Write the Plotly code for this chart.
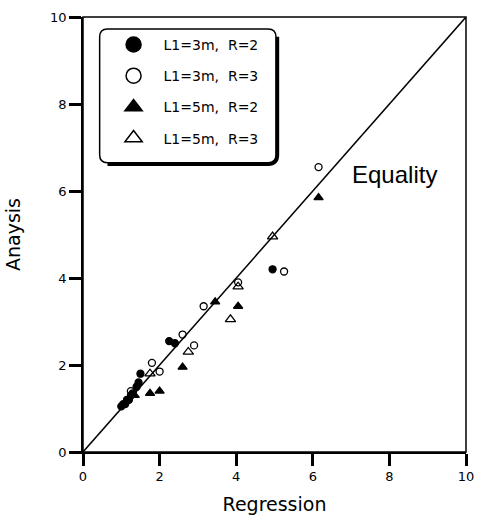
import plotly.graph_objects as go

# Series: Regression estimate (x) vs analysis result (y)
l3_r2_x = [1.0, 1.05, 1.1, 1.15, 1.2, 1.25, 1.3, 1.4, 1.45, 1.5, 2.25, 2.4, 4.95]
l3_r2_y = [1.05, 1.1, 1.1, 1.2, 1.2, 1.3, 1.35, 1.5, 1.6, 1.8, 2.55, 2.5, 4.2]

l3_r3_x = [1.25, 1.8, 2.0, 2.6, 2.9, 3.15, 4.05, 5.25, 6.15]
l3_r3_y = [1.4, 2.05, 1.85, 2.7, 2.45, 3.35, 3.9, 4.15, 6.55]

l5_r2_x = [1.35, 1.75, 2.0, 2.6, 3.45, 4.05, 6.15]
l5_r2_y = [1.3, 1.35, 1.4, 1.95, 3.45, 3.35, 5.85]

l5_r3_x = [1.75, 2.75, 3.85, 4.05, 4.95]
l5_r3_y = [1.8, 2.3, 3.05, 3.8, 4.95]

equality_x = [0, 10]
equality_y = [0, 10]

tick_values = [0, 2, 4, 6, 8, 10]
axis_range = [0, 10]

series_names = ["L1=3m,  R=2", "L1=3m,  R=3", "L1=5m,  R=2", "L1=5m,  R=3"]
symbols = ["circle", "circle-open", "triangle-up", "triangle-up-open"]
xs = [l3_r2_x, l3_r3_x, l5_r2_x, l5_r3_x]
ys = [l3_r2_y, l3_r3_y, l5_r2_y, l5_r3_y]
plot_sizes = [7, 7, 8, 9]

fig = go.Figure()

fig.add_trace(go.Scatter(x=equality_x, y=equality_y, mode="lines",
                         line=dict(color="black", width=1.5),
                         showlegend=False, hoverinfo="skip"))

for name, sym, x, y, s in zip(series_names, symbols, xs, ys, plot_sizes):
    fig.add_trace(go.Scatter(
        x=x, y=y, mode="markers", name=name, showlegend=False,
        marker=dict(symbol=sym, size=s, color="black",
                    line=dict(color="black", width=1.3)),
    ))
    # larger symbols for the key
    fig.add_trace(go.Scatter(
        x=[None], y=[None], mode="markers", name=name, legendgroup=name,
        marker=dict(symbol=sym, size=15, color="black",
                    line=dict(color="black", width=1.5)),
    ))

# plot area in pixels: x 83..474, y 13..452
W, H = 484, 522
L, R, T, B = 83, 10, 13, 70
pw, ph = W - L - R, H - T - B
TICK_LEN = 12


def px(x):
    return (x - L) / pw


def py(y):
    return (H - B - y) / ph


# frame around the plotting area
fig.add_shape(type="rect", x0=0, x1=1, y0=0, y1=1, xref="paper", yref="paper",
              line=dict(color="black", width=1.5))

# rounded key frame with a heavier lower-right edge
bx0, bx1, by0, by1, r = 100, 280, 25, 160, 8
frame = (f"M {px(bx0 + r)},{py(by0)} L {px(bx1 - r)},{py(by0)} "
         f"Q {px(bx1)},{py(by0)} {px(bx1)},{py(by0 + r)} "
         f"L {px(bx1)},{py(by1 - r)} Q {px(bx1)},{py(by1)} {px(bx1 - r)},{py(by1)} "
         f"L {px(bx0 + r)},{py(by1)} Q {px(bx0)},{py(by1)} {px(bx0)},{py(by1 - r)} "
         f"L {px(bx0)},{py(by0 + r)} Q {px(bx0)},{py(by0)} {px(bx0 + r)},{py(by0)} Z")
shadow = (f"M {px(bx1 + 1.5)},{py(by0 + r)} L {px(bx1 + 1.5)},{py(by1 - r)} "
          f"Q {px(bx1 + 1.5)},{py(by1 + 1.5)} {px(bx1 - r)},{py(by1 + 1.5)} "
          f"L {px(bx0 + r)},{py(by1 + 1.5)}")

fig.add_shape(type="path", path=frame, xref="paper", yref="paper",
              line=dict(color="black", width=1.5))
fig.add_shape(type="path", path=shadow, xref="paper", yref="paper",
              line=dict(color="black", width=3.5))

fig.add_annotation(x=8.13, y=6.38, text="Equality", showarrow=False,
                   font=dict(family="Liberation Sans, Arial", size=24, color="black"))

title_font = dict(family="DejaVu Sans", size=19, color="black")
tick_font = dict(family="DejaVu Sans", size=13, color="black")

fig.update_layout(
    width=W, height=H,
    margin=dict(l=L, r=R, t=T, b=B),
    paper_bgcolor="white", plot_bgcolor="white",
    legend=dict(x=px(104), y=py(25), xanchor="left", yanchor="top",
                bgcolor="rgba(0,0,0,0)", borderwidth=0,
                font=dict(family="DejaVu Sans", size=14, color="black"),
                tracegroupgap=10, itemwidth=50),
    showlegend=True,
)
fig.update_xaxes(range=axis_range, tickvals=tick_values, ticks="outside",
                 ticklen=TICK_LEN, tickwidth=3, tickcolor="black",
                 showline=True, linecolor="black", linewidth=1.5,
                 showgrid=False, zeroline=False, tickfont=tick_font,
                 title=dict(text="Regression", standoff=14, font=title_font))
fig.update_yaxes(range=axis_range, tickvals=tick_values, ticks="outside",
                 ticklen=TICK_LEN, tickwidth=3, tickcolor="black",
                 showline=True, linecolor="black", linewidth=1.5,
                 showgrid=False, zeroline=False, tickfont=tick_font,
                 title=dict(text="Anaysis", standoff=24, font=title_font))

fig.write_html("out.html")
